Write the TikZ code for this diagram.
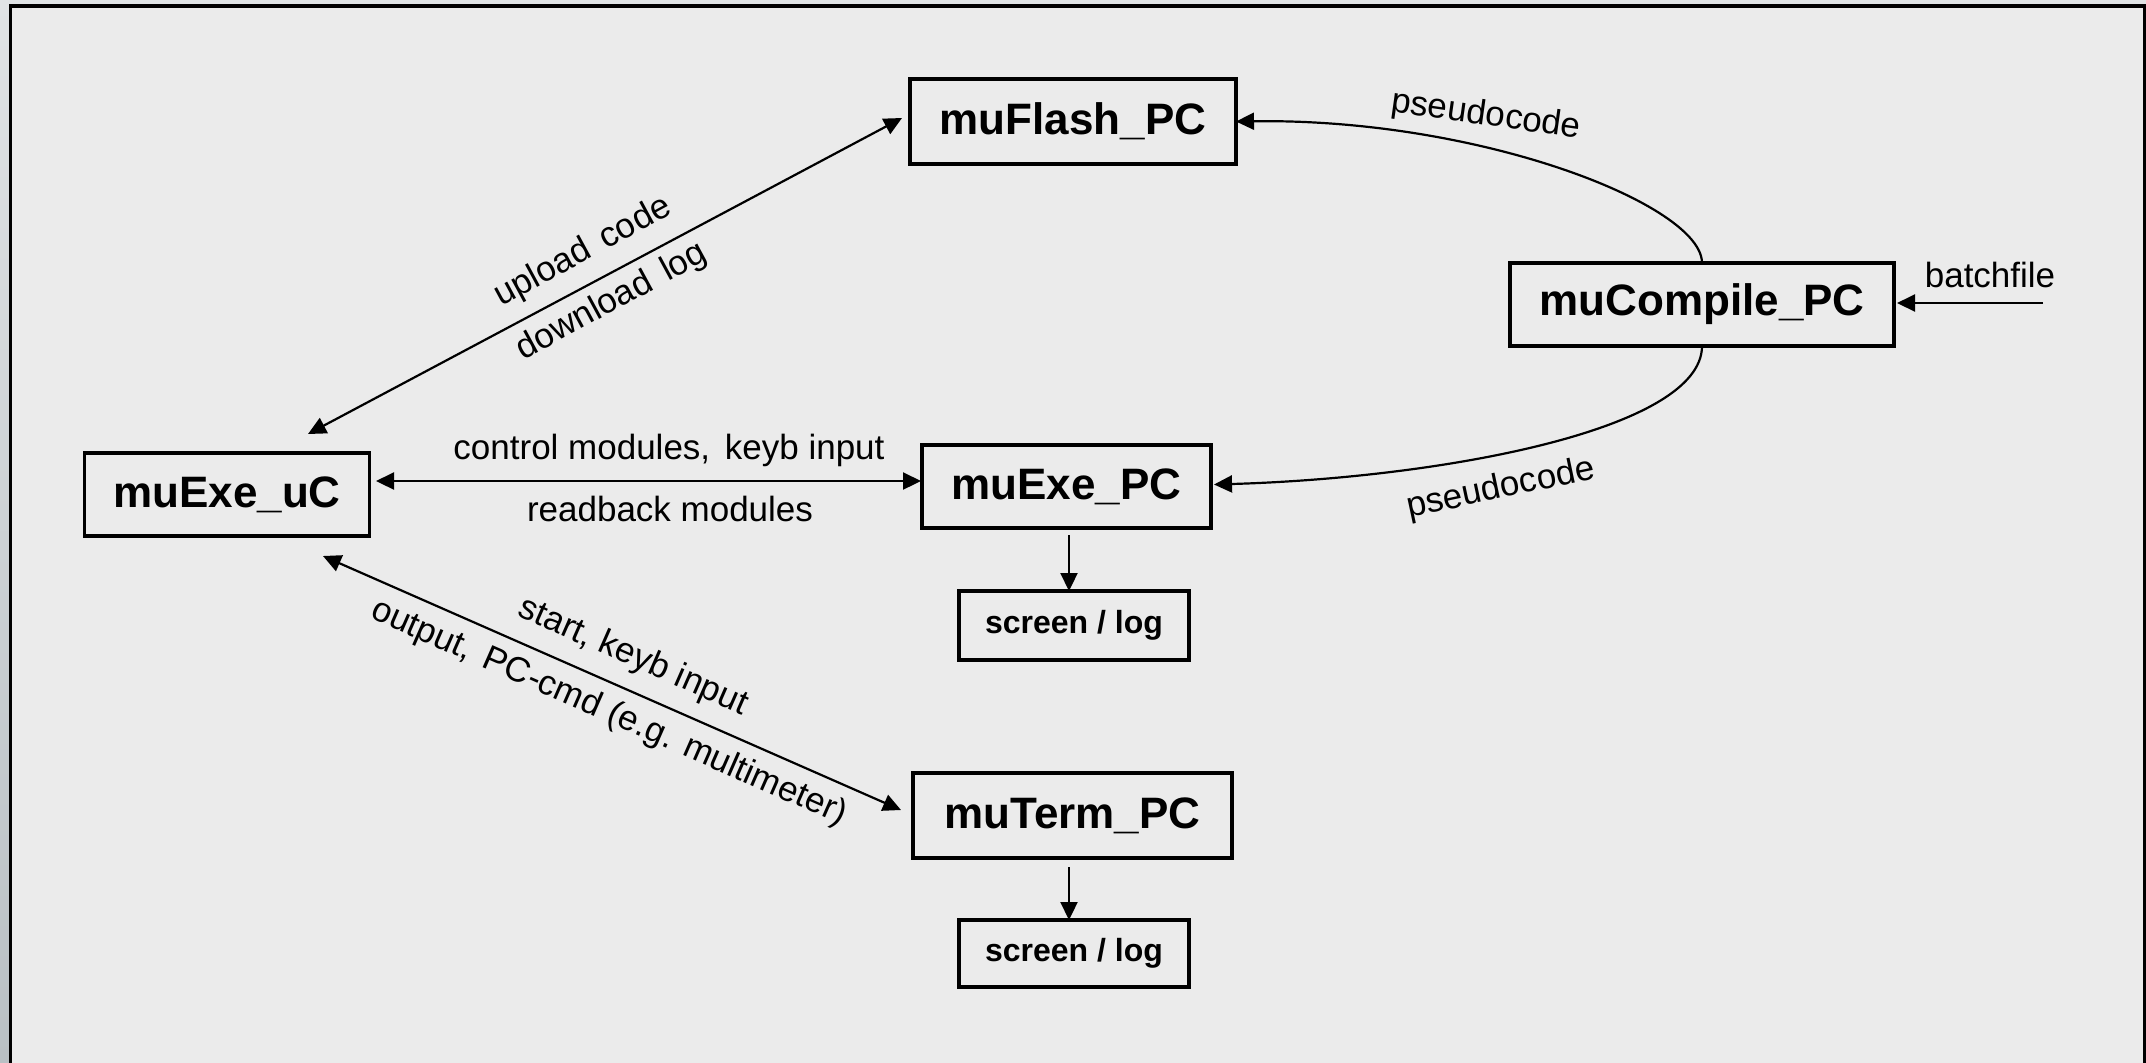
\documentclass[tikz,border=0pt]{standalone}
\usepackage{fontspec}
\setmainfont{Liberation Sans}
\usetikzlibrary{arrows.meta,calc}
\definecolor{pagetop}{HTML}{E0E3E5}
\definecolor{pagebottom}{HTML}{B9C0C4}
\definecolor{panelbg}{HTML}{EBEBEB}
\newcommand{\wgap}{\hspace{0.42em}}
\tikzset{
  mainbox/.style={draw, line width=1.8pt, inner sep=0pt, outer sep=0pt,
    font=\bfseries\fontsize{22}{26}\selectfont},
  outbox/.style={draw, line width=1.8pt, inner sep=0pt, outer sep=0pt,
    minimum width=115pt, font=\bfseries\fontsize{16}{19}\selectfont},
  lbl/.style={inner sep=0pt, font=\fontsize{17.5}{21}\selectfont},
  onearrow/.style={line width=1.1pt, -{Triangle[length=9pt,width=8.5pt]}},
  twoarrow/.style={line width=1.1pt, {Triangle[length=9pt,width=8.5pt]}-{Triangle[length=9pt,width=8.5pt]}}
}
\begin{document}
\begin{tikzpicture}[x=0.5pt,y=-0.5pt]
\useasboundingbox (0,0) rectangle (2146,1062);
\clip (0,0) rectangle (2146,1062);
% page and framed panel
\shade[top color=pagetop, bottom color=pagebottom] (0,0) rectangle (2146,1062);
\filldraw[fill=panelbg, draw=black, line width=1.6pt] (10.5,6) rectangle (2145,1090);

% program blocks
\node[mainbox, minimum width=163pt, minimum height=42.5pt] (flash) at (1073,121.5) {muFlash\_PC};
\node[mainbox, minimum width=192pt, minimum height=41.5pt] (comp) at (1702,304.5) {muCompile\_PC};
\node[mainbox, minimum width=142.5pt, minimum height=41.5pt] (uC) at (227,494.5) {muExe\_uC};
\node[mainbox, minimum width=144.5pt, minimum height=41.5pt] (exePC) at (1066.5,486.5) {muExe\_PC};
\node[mainbox, minimum width=159.5pt, minimum height=42.5pt] (term) at (1072.5,815.5) {muTerm\_PC};
\node[outbox, minimum height=34.5pt] (scr1) at (1074,625.5) {screen / log};
\node[outbox, minimum height=33.5pt] (scr2) at (1074,953.5) {screen / log};

% data flows
\draw[twoarrow] ($(uC.north)+(81,-19)$) -- ($(flash.west)+(-8,-3.5)$);
\draw[twoarrow] ($(uC.east)+(6.5,-13.5)$) -- ($(exePC.west)+(-1,-5.5)$);
\draw[twoarrow] ($(uC.south)+(96,20)$) -- ($(term.west)+(-12,-5.5)$);
\draw[onearrow] ($(exePC.south)+(2.5,7)$) -- ($(scr1.north)+(-5,0)$);
\draw[onearrow] ($(term.south)+(-3.5,9)$) -- ($(scr2.north)+(-5,0)$);
\coordinate (batchin) at (2043,303);
\draw[onearrow] (batchin) -- ($(comp.east)+(3,-1.5)$);
\draw[onearrow] (comp.north) .. controls +(0,-58) and +(244,-3.5) .. (flash.east);
\draw[onearrow] (comp.south) .. controls +(0,84) and +(226,-6.5) .. ($(exePC.east)+(3,-2)$);

% flow labels
\node[lbl, rotate=28.5] (lup) at (583,252) {upload\wgap code};
\node[lbl, rotate=28.5] (ldown) at (612,302) {download\wgap log};
\node[lbl] (lctrl) at (669,450) {control modules,\wgap keyb input};
\node[lbl] (lread) at (670,509) {readback modules};
\node[lbl, rotate=-23.7] (lstart) at (633,657) {start, keyb input};
\node[lbl, rotate=-23.7] (lout) at (609,713) {output,\wgap PC-cmd (e.g. multimeter)};
\node[lbl, rotate=-8] (lpc1) at (1486,116) {pseudocode};
\node[lbl, rotate=12] (lpc2) at (1501,489) {pseudocode};
\node[lbl] (lbatch) at (1990,274.5) {batchfile};
\end{tikzpicture}
\end{document}
